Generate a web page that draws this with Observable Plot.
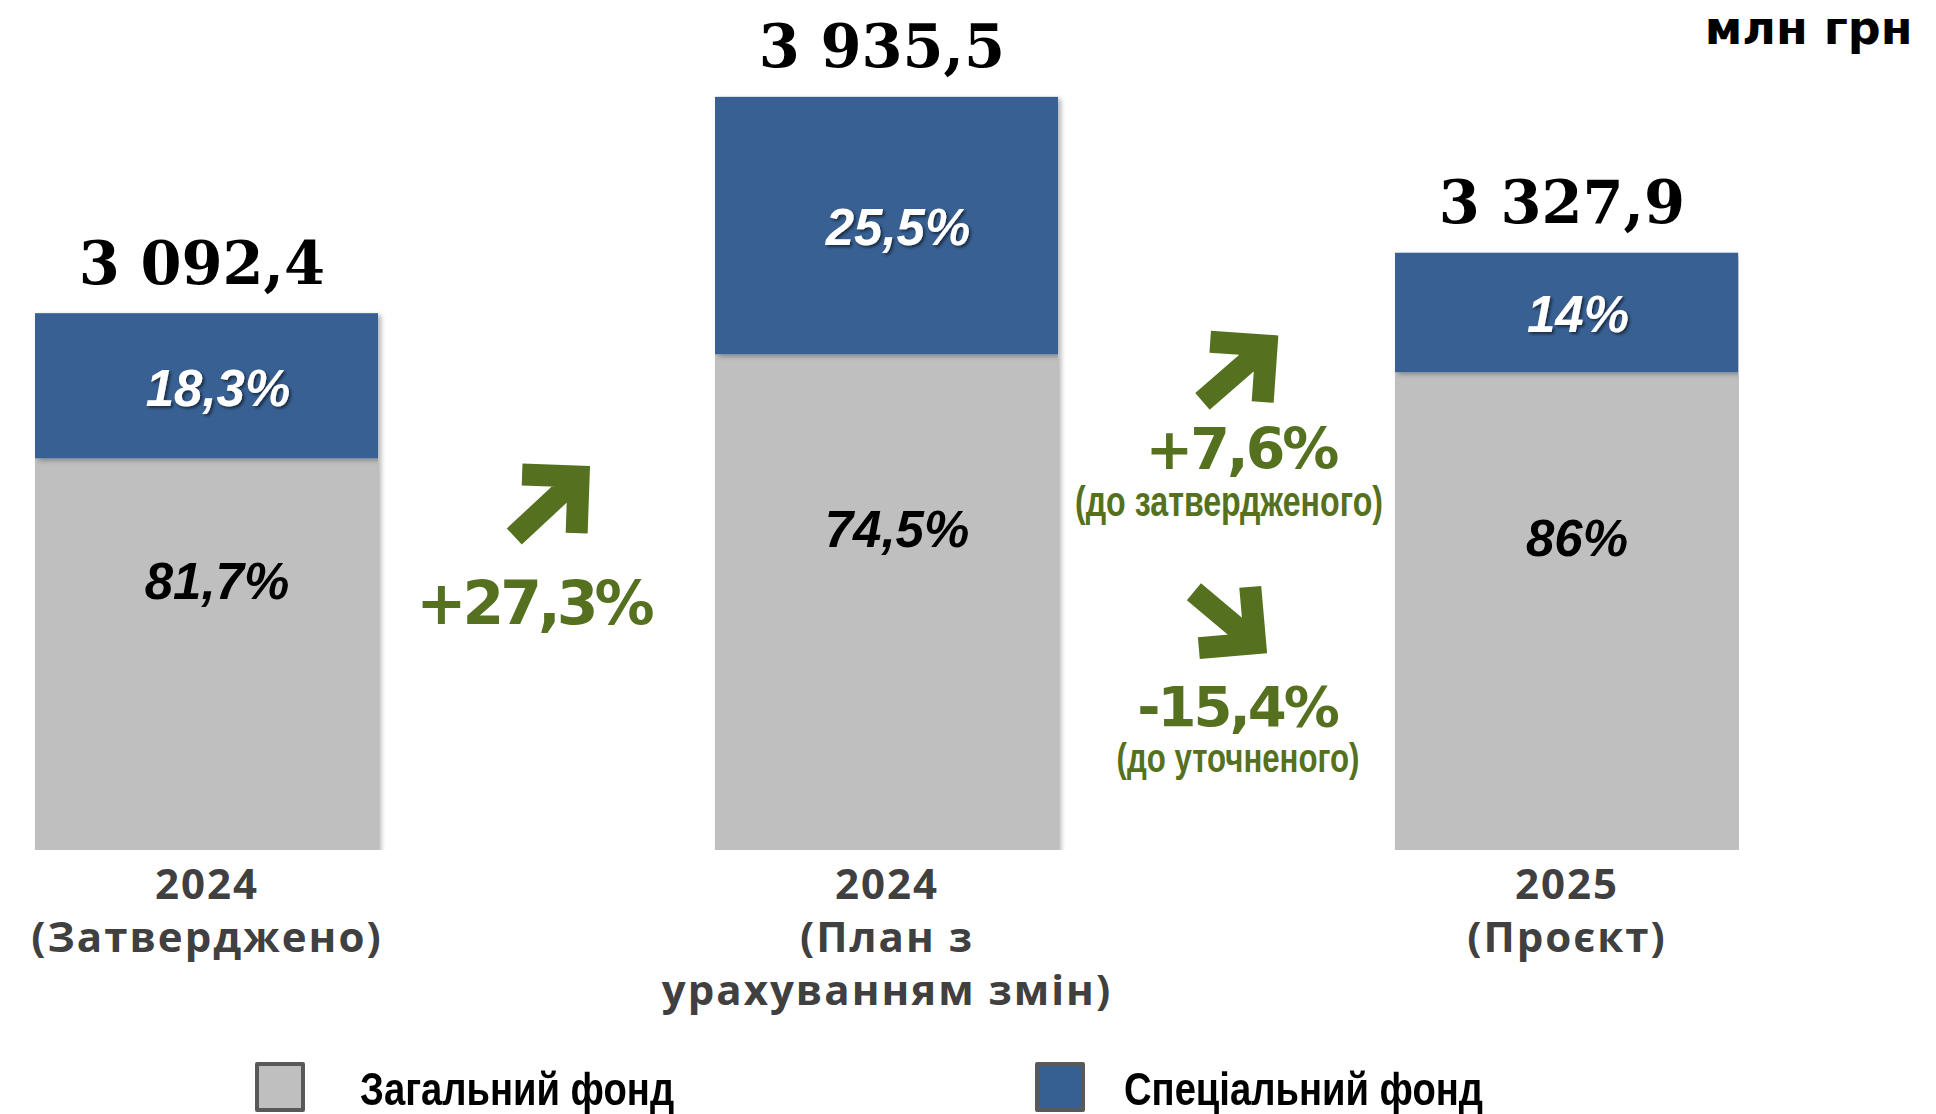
<!DOCTYPE html>
<html><head><meta charset="utf-8">
<script src="https://cdn.jsdelivr.net/npm/d3@7"></script>
<script src="https://cdn.jsdelivr.net/npm/@observablehq/plot@0.6"></script>
<style>
body{margin:0;background:#fff;}
#legend{position:relative;width:1936px;height:69px;font-family:"Liberation Sans",Arial,sans-serif;font-weight:bold;}
.sw{position:absolute;top:17px;width:42px;height:42px;border:4px solid #595959;border-radius:2px;}
.lt{position:absolute;top:21px;font-size:46px;line-height:46px;transform:scaleX(0.83);transform-origin:left center;white-space:nowrap;color:#000;}
</style></head><body>
<div id="chart"></div>
<div id="legend"></div>
<script>
// ---- data ----
const categories = ["2024\n(Затверджено)", "2024\n(План з\nурахуванням змін)", "2025\n(Проєкт)"];
const totals = [3092.4, 3935.5, 3327.9];
const generalShare = [81.7, 74.5, 86];
const specialShare = [18.3, 25.5, 14];
const funds = ["Загальний фонд", "Спеціальний фонд"];
const fundColors = ["#BFBFBF", "#376092"];
const unitLabel = "млн грн";
const changeNotes = ["(до затвердженого)", "(до уточненого)"];

// ---- layout ----
const W = 1936, H = 1045, mL = 34, mR = 197, mT = 29, mB = 195, padIn = 0.496;
const yMin = 1000, yMax = 4200;
const step = (W - mL - mR) / (categories.length - padIn);
const green = "#557120";

const rows = categories.flatMap((c, i) => [
  {cat: c, fund: funds[0], value: totals[i] * generalShare[i] / 100, share: generalShare[i], base: 0},
  {cat: c, fund: funds[1], value: totals[i] * specialShare[i] / 100, share: specialShare[i], base: totals[i] * generalShare[i] / 100}
]);

const fmtTotal = d3.formatLocale({decimal: ",", thousands: " ", grouping: [3]}).format(",.1f");
const fmtPct = v => String(v).replace(".", ",") + "%";
const fmtChange = r => (r >= 0 ? "+" : "") + (r * 100).toFixed(1).replace(".", ",") + "%";
const ch1 = totals[1] / totals[0] - 1;
const ch2 = totals[2] / totals[0] - 1;
const ch3 = totals[2] / totals[1] - 1;

const blockArrow = {
  draw(context, l) {
    const a = 40;
    context.moveTo(0, 0); context.lineTo(0, -l);
    context.moveTo(-a, a - l); context.lineTo(0, -l); context.lineTo(a, a - l);
  }
};
const arrowOpts = {stroke: green, strokeWidth: 22, strokeLinejoin: "miter", strokeLinecap: "butt", shape: blockArrow, frameAnchor: "top", length: 88};
const bigGreen = {fill: green, fontFamily: "DejaVu Sans", fontWeight: "bold", fontSize: 57, lineAnchor: "bottom", frameAnchor: "top", textAnchor: "middle"};
const noteGreen = {fill: green, fontFamily: "Liberation Sans", fontWeight: "bold", fontSize: 42, lineAnchor: "bottom", frameAnchor: "top", textAnchor: "middle"};

const chart = Plot.plot({
  width: W, height: H,
  marginLeft: mL, marginRight: mR, marginTop: mT, marginBottom: mB,
  x: {domain: categories, paddingInner: padIn, paddingOuter: 0, label: null},
  y: {domain: [yMin, yMax], axis: null, label: null},
  color: {domain: funds, range: fundColors},
  marks: [
    Plot.barY(rows, {x: "cat", y: "value", fill: "fund", clip: true, ariaDescription: "bars"}),
    Plot.axisX({label: null, tickSize: 0, tickPadding: 11, fontSize: 42, fontWeight: "bold", fontFamily: "Open Sans", color: "#404040", lineHeight: 1.26, tickFormat: d => d, ariaDescription: "xlabels"}),
    // totals
    Plot.text(categories, {x: d => d, y: (d, i) => totals[i], text: (d, i) => fmtTotal(totals[i]), dy: -30, dx: -5, lineAnchor: "bottom", fontFamily: "DejaVu Serif", fontWeight: "bold", fontSize: 59, fill: "#000"}),
    // special fund labels
    Plot.text(rows.filter(r => r.fund === funds[1]), {x: "cat", y: r => r.base + r.value / 2, text: r => fmtPct(r.share), fill: "#fff", fontStyle: "italic", fontWeight: "bold", fontFamily: "Liberation Sans", fontSize: 51, dx: 11, dy: 3, ariaDescription: "special-label"}),
    // general fund labels
    Plot.text(rows.filter(r => r.fund === funds[0]), {x: "cat", y: r => (yMin + r.value) / 2, text: r => fmtPct(r.share), fill: "#000", fontStyle: "italic", fontWeight: "bold", fontFamily: "Liberation Sans", fontSize: 51, dx: 10, dy: -72}),
    // change annotations
    Plot.vector([categories[0]], {x: d => d, dx: step / 2 - 1, dy: 477, rotate: 47, ...arrowOpts}),
    Plot.text([fmtChange(ch1)], {x: () => categories[0], text: d => d, dx: step / 2 - 14, dy: 594, ...bigGreen, fontSize: 60, ariaDescription: "chg-1"}),
    Plot.vector([categories[2]], {x: d => d, dx: -step / 2 + 8, dy: 344, rotate: 49, ...arrowOpts, length: 85}),
    Plot.text([fmtChange(ch2)], {x: () => categories[2], text: d => d, dx: -326, dy: 439, ...bigGreen, ariaDescription: "chg-2"}),
    Plot.text([changeNotes[0]], {x: () => categories[2], text: d => d, dx: -338, dy: 486, ...noteGreen, ariaDescription: "note-1"}),
    Plot.vector([categories[2]], {x: d => d, dx: -step / 2 - 2, dy: 588, rotate: 130, ...arrowOpts, length: 80}),
    Plot.text([fmtChange(ch3)], {x: () => categories[2], text: d => d, dx: -330, dy: 696, ...bigGreen, fontSize: 56, ariaDescription: "chg-3"}),
    Plot.text([changeNotes[1]], {x: () => categories[2], text: d => d, dx: -329, dy: 742, ...noteGreen, fontSize: 40, ariaDescription: "note-2"}),
    // unit
    Plot.text([unitLabel], {frameAnchor: "top-right", text: d => d, dx: 173, dy: 14, textAnchor: "end", lineAnchor: "bottom", fontFamily: "DejaVu Sans", fontWeight: "bold", fontSize: 46, fill: "#000"})
  ]
});
document.getElementById("chart").append(chart);

// ---- post styling ----
const svg = d3.select(chart);
const defs = svg.insert("defs", ":first-child");
const f1 = defs.append("filter").attr("id", "tshadow").attr("x", "-20%").attr("y", "-20%").attr("width", "140%").attr("height", "140%");
f1.append("feDropShadow").attr("dx", 2).attr("dy", 2).attr("stdDeviation", 1.5).attr("flood-color", "#000").attr("flood-opacity", 0.55);
const f2 = defs.append("filter").attr("id", "bshadow").attr("x", "-5%").attr("y", "-5%").attr("width", "110%").attr("height", "110%");
f2.append("feDropShadow").attr("dx", 3).attr("dy", 2).attr("stdDeviation", 2.5).attr("flood-color", "#000").attr("flood-opacity", 0.3);
const g = d => svg.selectAll(`g[aria-description="${d}"]`);
g("bars").selectAll("rect").attr("filter", "url(#bshadow)");
g("special-label").selectAll("text").attr("filter", "url(#tshadow)");
g("xlabels").selectAll("text").style("letter-spacing", "2px");
svg.selectAll('g[aria-label="x-axis tick label"] text').style("letter-spacing", "2px");
g("chg-1").selectAll("text").style("letter-spacing", "-4px");
g("chg-2").selectAll("text").style("letter-spacing", "-3px");
g("chg-3").selectAll("text").style("letter-spacing", "-3px");
g("note-1").selectAll("text").attr("textLength", 308).attr("lengthAdjust", "spacingAndGlyphs");
g("note-2").selectAll("text").attr("textLength", 243).attr("lengthAdjust", "spacingAndGlyphs");

// ---- legend ----
const swX = [255, 1035], txX = [360, 1124];
document.getElementById("legend").innerHTML = funds.map((f, i) =>
  `<div class="sw" style="left:${swX[i]}px;background:${fundColors[i]}"></div><div class="lt" style="left:${txX[i]}px">${f}</div>`
).join("");
</script>
</body></html>
